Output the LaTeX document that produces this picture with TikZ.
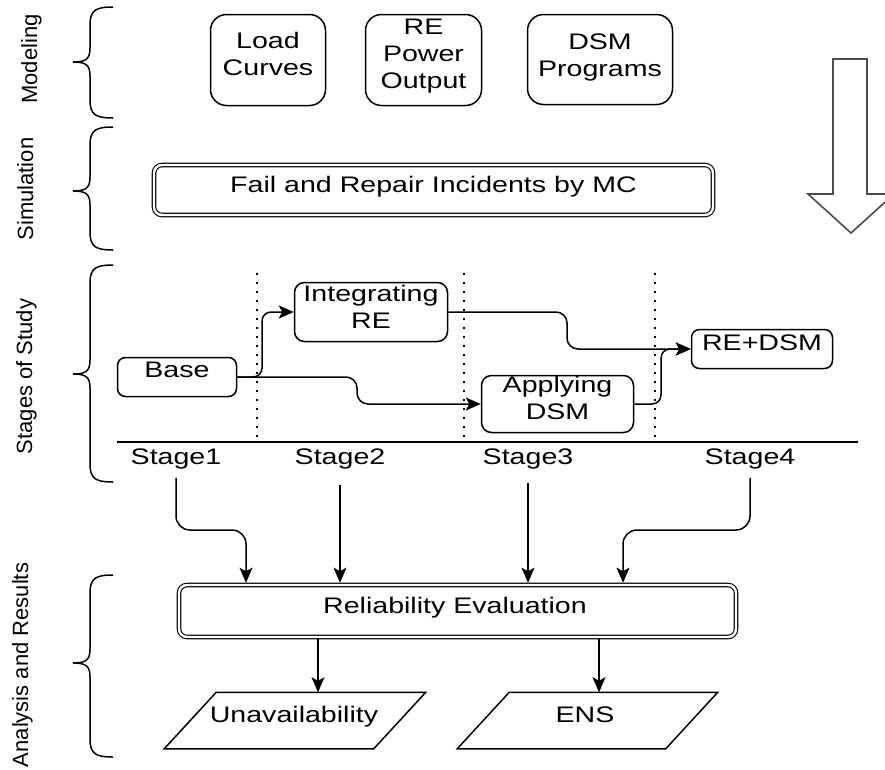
\documentclass[tikz,border=0pt]{standalone}
\usepackage{fontspec}
\setmainfont{Liberation Sans}[FakeStretch=1.27]
\newfontfamily\vfont{Liberation Sans}
\usetikzlibrary{arrows.meta}
\begin{document}
\begin{tikzpicture}[x=1pt,y=-1pt,
  ln/.style={line width=1.5pt},
  arr/.style={line width=1.5pt,-{Stealth[length=15pt,width=13pt,inset=3.5pt]}},
  rbox/.style={draw,line width=1.5pt,rounded corners=#1,inner sep=0pt},
  rbox/.default=10pt,
  dbox/.style={draw,double,double distance=2.4pt,line width=1.1pt,rounded corners=8pt,inner sep=0pt,outer sep=2.3pt},
  pframe/.style={inner sep=0pt,outer sep=0.75pt},
  txt/.style={font=\fontsize{22.5pt}{27pt}\selectfont,inner sep=0pt,align=center},
  txtone/.style={txt,text height=16.4pt,text depth=4.7pt},
  vlab/.style={font=\vfont\fontsize{22pt}{26pt}\selectfont,inner sep=0pt,rotate=90,anchor=base},
  brace/.style={line width=1.5pt},
  dotln/.style={line width=2pt,dash pattern=on 1.6pt off 7.4pt},
  bigarrow/.style={draw=black!70,line width=1.6pt,line join=miter}
]
\clip (0,0) rectangle (885,769);
\fill[white] (0,0) rectangle (885,769);

% ---- side labels
\node[vlab] (lmod) at (37,59) {Modeling};
\node[vlab] (lsim) at (33,189) {Simulation};
\node[vlab] (lsta) at (32,376.5) {Stages of Study};
\node[vlab] (lana) at (28,665) {Analysis and Results};

% ---- braces
\foreach \t/\m/\b in {7/62/118, 127/191/250, 265/374/482, 575/663/757}{
  \draw[brace] (113,\t) .. controls (96,\t) and (90,\t+3) .. (90,\t+18)
    -- (90,\m-14) .. controls (90,\m-3) and (86,\m) .. (73,\m)
    .. controls (86,\m) and (90,\m+3) .. (90,\m+14)
    -- (90,\b-18) .. controls (90,\b-3) and (96,\b) .. (113,\b);
}

% ---- modeling boxes
\node[rbox=16pt,minimum width=115pt,minimum height=91pt] (load) at (268,60) {};
\node[txt] (loadt) at (268,54.3) {Load\\Curves};
\node[rbox=16pt,minimum width=116pt,minimum height=91pt] (repo) at (423.5,60) {};
\node[txt] (repot) at (423.5,56.4) {RE\\Power\\Output};
\node[rbox=16pt,minimum width=145pt,minimum height=90pt] (dsmp) at (600,59.5) {};
\node[txt] (dsmpt) at (600,57.9) {DSM\\Programs};

% ---- simulation
\node[dbox,minimum width=559pt,minimum height=50pt] (fail) at (433.5,190) {};
\node[txtone] (failt) at (433.5,187) {Fail and Repair Incidents by MC};

% ---- big arrow
\draw[bigarrow] (833,59) -- (867,59) -- (867,194) -- (894,194) -- (851,233)
  -- (808,194) -- (833,194) -- cycle;

% ---- stages
\draw[dotln] (257,273) -- (257,438);
\draw[dotln] (464,273) -- (464,438);
\draw[dotln] (655,273) -- (655,438);
\draw[ln] (117,442) -- (858,442);

\node[rbox=8pt,minimum width=119pt,minimum height=39pt] (base) at (177,377) {};
\node[txtone] (baset) at (177,372) {Base};
\node[rbox=10pt,minimum width=153pt,minimum height=59pt] (intg) at (371,312) {};
\node[txt] (intgt) at (371,306.8) {Integrating\\RE};
\node[rbox=10pt,minimum width=152pt,minimum height=57pt] (appl) at (557.5,404) {};
\node[txt] (applt) at (557.5,398.3) {Applying\\DSM};
\node[rbox=8pt,minimum width=141pt,minimum height=39pt] (redsm) at (762,349) {};
\node[txtone] (redsmt) at (762,345) {RE+DSM};

\coordinate (k2) at (262,0);
\coordinate (k3) at (357,0);
\coordinate (k5) at (567,0);
\coordinate (k6) at (661,0);
\draw[arr,rounded corners=9pt] (base.east) -- (base.east -| k2) -- (k2 |- intg.west) -- (intg.west);
\draw[arr,rounded corners=11pt] (base.east) -- (base.east -| k3) -- (k3 |- appl.west) -- (appl.west);
\draw[arr,rounded corners=11pt] (intg.east) -- (intg.east -| k5) -- (k5 |- redsm.west) -- (redsm.west);
\draw[arr,rounded corners=9pt] (appl.east) -- (appl.east -| k6) -- (k6 |- redsm.west) -- (redsm.west);

\node[txtone] (s1) at (176,459) {Stage1};
\node[txtone] (s2) at (340,459) {Stage2};
\node[txtone] (s3) at (528,459) {Stage3};
\node[txtone] (s4) at (750,459) {Stage4};

% ---- analysis
\node[dbox,minimum width=557pt,minimum height=52pt] (rel) at (457.5,611) {};
\node[txtone] (relt) at (455,608) {Reliability Evaluation};

\coordinate (k1) at (246,530);
\coordinate (k4) at (623,530);
\draw[arr,rounded corners=14pt] ([yshift=-8pt]s1.south) |- (k1) -- (k1 |- rel.north);
\draw[arr] ([yshift=-15pt]s2.south) -- (s2.south |- rel.north);
\draw[arr] ([yshift=-13pt]s3.south) -- (s3.south |- rel.north);
\draw[arr,rounded corners=14pt] ([yshift=-8pt]s4.south) |- (k4) -- (k4 |- rel.north);

\node[pframe,minimum width=260pt,minimum height=55pt] (unav) at (295,720.5) {};
\draw[ln] ([xshift=52pt]unav.north west) -- (unav.north east) -- ([xshift=-52pt]unav.south east) -- (unav.south west) -- cycle;
\node[txtone] (unavt) at (294,717) {Unavailability};
\node[pframe,minimum width=259pt,minimum height=55pt] (ens) at (587.5,720.5) {};
\draw[ln] ([xshift=52pt]ens.north west) -- (ens.north east) -- ([xshift=-52pt]ens.south east) -- (ens.south west) -- cycle;
\node[txtone] (enst) at (585,717) {ENS};

\coordinate (k7) at (318,0);
\coordinate (k8) at (599,0);
\draw[arr] (k7 |- rel.south) -- (k7 |- unav.north);
\draw[arr] (k8 |- rel.south) -- (k8 |- ens.north);
\end{tikzpicture}
\end{document}
